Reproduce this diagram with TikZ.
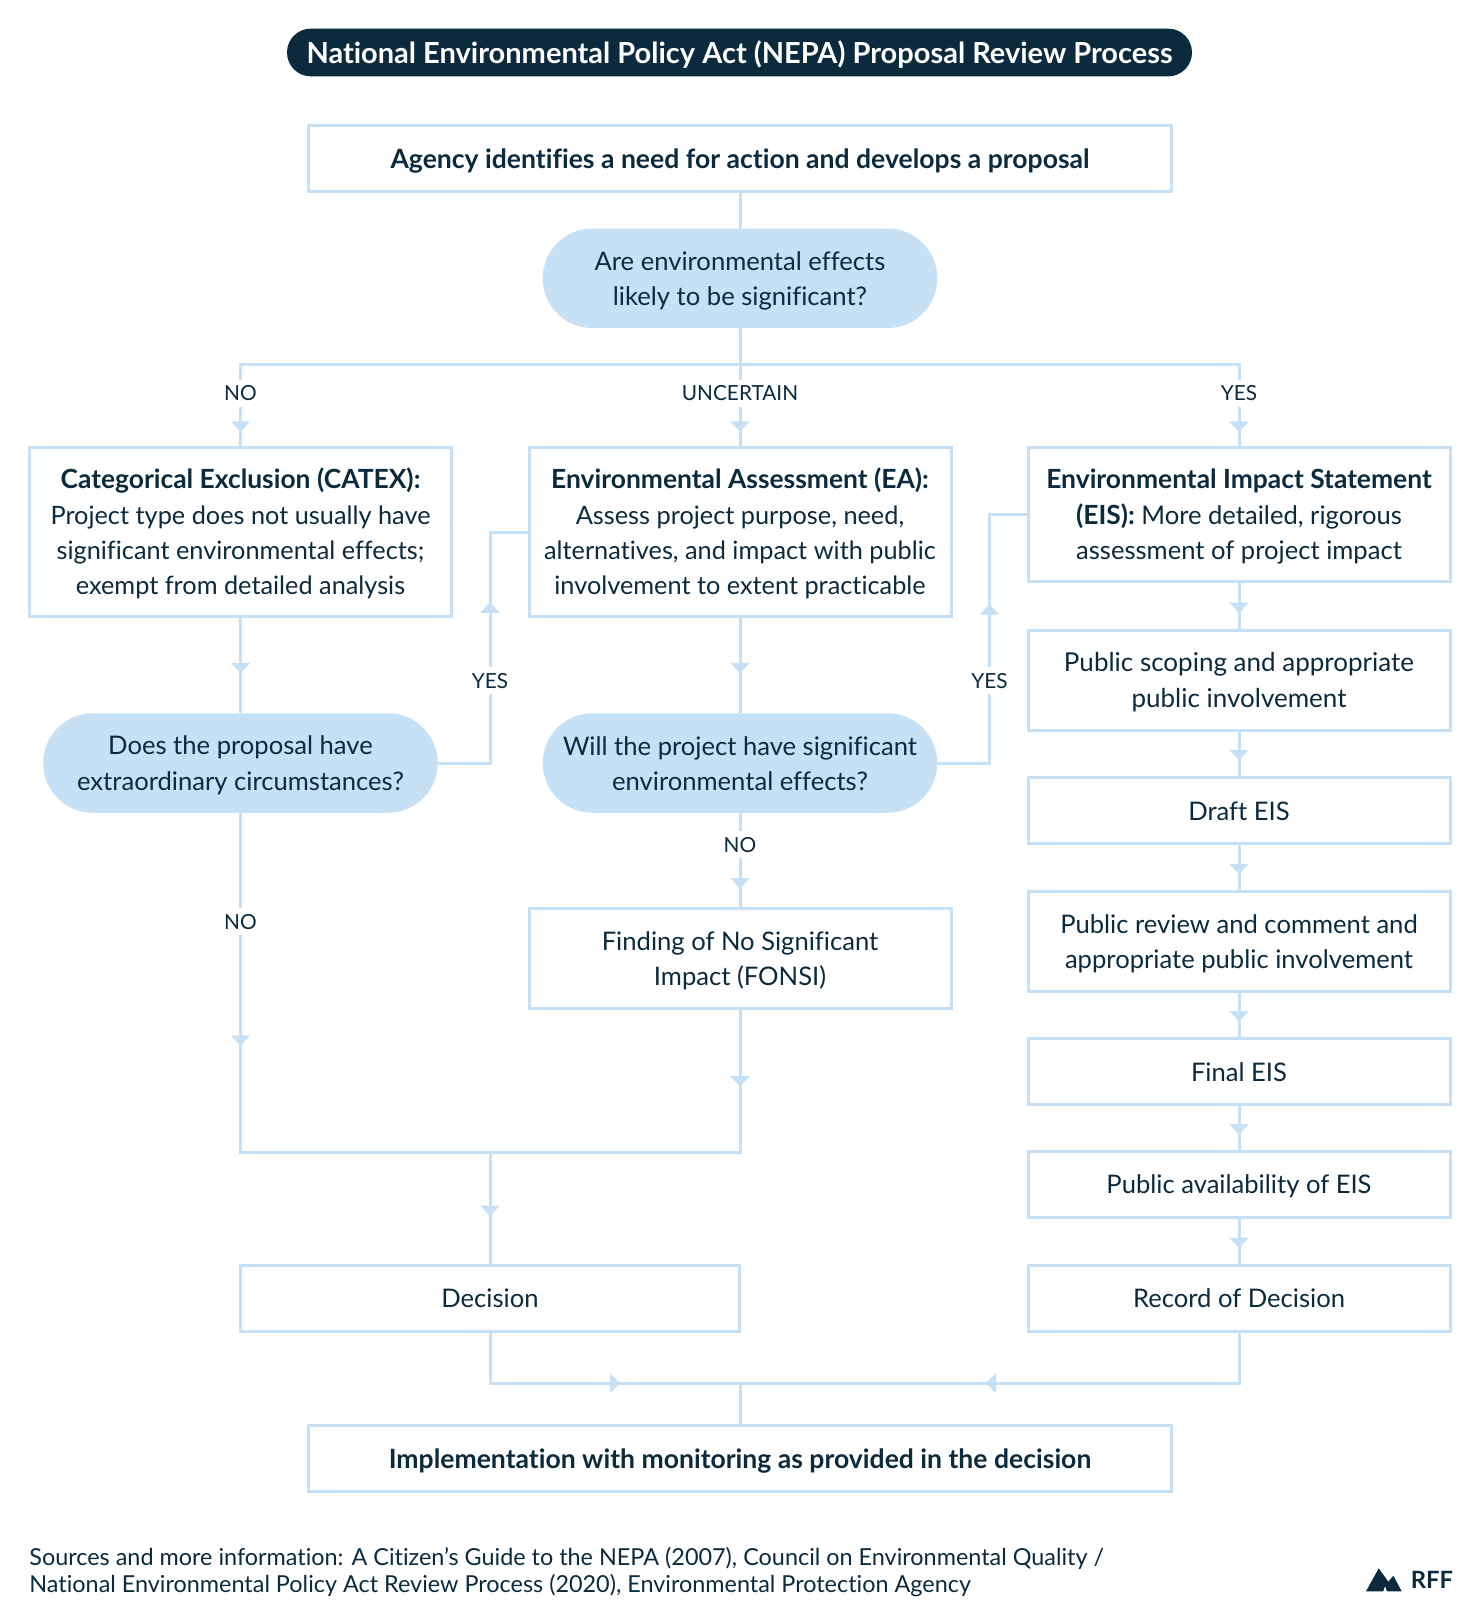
\documentclass[tikz,border=0pt]{standalone}
\usepackage{fontspec}
\setmainfont[Ligatures=NoCommon]{Lato}
\usetikzlibrary{arrows.meta}
\usetikzlibrary{decorations.markings}

\definecolor{navy}{HTML}{0B2A3E}
\definecolor{sky}{HTML}{C6E1F6}

\newcommand{\hd}[1]{{\fontsize{13.2}{17.65}\selectfont\bfseries #1}}
\newcommand{\firstrow}{\rule{0pt}{11.7pt}}

\tikzset{
  topstrut/.store in=\topstrut,topstrut=11.6pt,
  keepbase/.style={execute at begin node={\rule{0pt}{\topstrut}},execute at end node={\rule[-1.8pt]{0pt}{0pt}}},
  box/.style={draw=sky,line width=1.5pt,rectangle,outer sep=0pt,inner sep=0pt,text=navy,align=center,keepbase,
    font=\fontsize{12.8}{17.65}\selectfont},
  colbox/.style={box,minimum width=211pt},
  onerow/.style={colbox,minimum height=33pt},
  widebox/.style={box,minimum width=431.5pt,minimum height=33pt,topstrut=12.2pt,font=\fontsize{13.27}{17.65}\selectfont\bfseries},
  pill/.style={fill=sky,rectangle,rounded corners=24.8pt,outer sep=0pt,inner sep=0pt,text=navy,align=center,keepbase,
    minimum width=197.25pt,minimum height=49.75pt,font=\fontsize{12.8}{17.65}\selectfont},
  lab/.style={fill=white,text=navy,inner xsep=1.5pt,inner ysep=3pt,text height=7.5pt,text depth=0pt,font=\fontsize{10.4}{12}\selectfont},
  flow/.style={draw=sky,line width=1.5pt},
  flowtip/.style={postaction={decorate,decoration={markings,
    mark=at position #1 with {\arrow[sky]{Triangle[width=9.5pt,length=5.25pt]}}}}}
}

\begin{document}
\begin{tikzpicture}[x=0.5pt,y=-0.5pt]
  \useasboundingbox (0,0) rectangle (1480,1621);
  % title and top of the chart
  \node[fill=navy,rectangle,rounded corners=11.9pt,minimum width=452.5pt,minimum height=23.85pt,inner sep=0pt,
    text=white,font=\fontsize{14.5}{16}\selectfont\bfseries,
    execute at begin node={\rule{0pt}{13.4pt}},execute at end node={\rule[-2pt]{0pt}{0pt}}] (title) at (739.5,52.5)
    {National Environmental Policy Act (NEPA) Proposal Review Process};
  \node[widebox] (agency) at (740,158.5) {Agency identifies a need for action and develops a proposal};
  \node[pill] (ask) at (740,278.3) {\firstrow Are environmental effects\\likely to be significant?};
  \coordinate (split) at (740,364);

  % three columns
  \node[colbox,minimum height=84.5pt,font=\fontsize{12.65}{17.65}\selectfont] (catex) at (240.5,532.3)
    {\firstrow\hd{Categorical Exclusion (CATEX):}\\Project type does not usually have\\significant environmental effects;\\exempt from detailed analysis};
  \node[colbox,minimum height=84.5pt,font=\fontsize{12.65}{17.65}\selectfont] (ea) at (740,532.3)
    {\firstrow\hd{Environmental Assessment (EA):}\\Assess project purpose, need,\\alternatives, and impact with public\\involvement to extent practicable};
  \node[colbox,minimum height=66.75pt] (eis) at (1239,514.7)
    {\firstrow\hd{Environmental Impact Statement}\\\hd{(EIS):} More detailed, rigorous\\assessment of project impact};

  \node[pill] (extra) at (240.5,763) {\firstrow Does the proposal have\\extraordinary circumstances?};
  \node[pill] (signif) at (740,763) {\firstrow Will the project have significant\\environmental effects?};
  \node[colbox,minimum height=50pt] (fonsi) at (740,958.5) {\firstrow Finding of No Significant\\Impact (FONSI)};

  \node[colbox,minimum height=50pt,font=\fontsize{13}{17.65}\selectfont] (scoping) at (1239,680) {\firstrow Public scoping and appropriate\\public involvement};
  \node[onerow] (draft) at (1239,810.3) {Draft EIS};
  \node[colbox,minimum height=50pt] (review) at (1239,941.3) {\firstrow Public review and comment and\\appropriate public involvement};
  \node[onerow] (final) at (1239,1071.5) {Final EIS};
  \node[onerow] (avail) at (1239,1184.5) {Public availability of EIS};
  \node[onerow] (record) at (1239,1298) {Record of Decision};
  \node[onerow,minimum width=249.5pt] (decision) at (490,1298) {Decision};
  \node[widebox] (impl) at (740,1458.5) {Implementation with monitoring as provided in the decision};

  \coordinate (merge) at (490,1152.3);
  \coordinate (join) at (740,1383.3);
  \coordinate (kinkea) at (490,532.3);
  \coordinate (kinkeis) at (989.5,514.7);

  % connectors
  \draw[flow] (agency) -- (ask);
  \draw[flow] (ask) -- (split);
  \draw[flow,flowtip=-8pt] (split) -| (catex.north);
  \draw[flow,flowtip=-8pt] (split) -- (ea);
  \draw[flow,flowtip=-8pt] (split) -| (eis.north);
  \draw[flow,flowtip=-20pt] (catex) -- (extra);
  \draw[flow,flowtip=-20pt] (ea) -- (signif);
  \draw[flow,flowtip=-54.5pt] (extra.east) -| (kinkea) -- (ea.west);
  \draw[flow,flowtip=-64pt] (signif.east) -| (kinkeis) -- (eis.west);
  \draw[flow,flowtip=-10pt] (signif) -- (fonsi);
  \draw[flow,flowtip=116.5pt] (extra.south) |- (merge);
  \draw[flow,flowtip=39pt] (fonsi.south) |- (merge);
  \draw[flow,flowtip=-24.5pt] (merge) -- (decision);
  \foreach \a/\b in {eis/scoping,scoping/draft,draft/review,review/final,final/avail,avail/record}
    \draw[flow,flowtip=-8.5pt] (\a) -- (\b);
  \draw[flow,flowtip=-59.75pt] (decision.south) |- (join);
  \draw[flow,flowtip=-122.75pt] (record.south) |- (join);
  \draw[flow] (join) -- (impl);

  % labels on the lines
  \node[lab] (lno) at (240.5,393) {NO};
  \node[lab] (lunc) at (740,393) {UNCERTAIN};
  \node[lab] (lyes) at (1239,393) {YES};
  \node[lab] (lyesa) at (490,680.7) {YES};
  \node[lab] (lyesb) at (989.5,680.7) {YES};
  \node[lab] (lnoa) at (740,844.5) {NO};
  \node[lab] (lnob) at (240.5,921.5) {NO};

  % source and logo
  \node[anchor=west,align=left,inner sep=0pt,text=navy,font=\fontsize{11.7}{13.5}\selectfont] (source) at (29,1572)
    {Sources and more information: A Citizen’s Guide to the NEPA (2007), Council on Environmental Quality /\\National Environmental Policy Act Review Process (2020), Environmental Protection Agency};
  \fill[navy] (1366,1591.3) -- (1378.7,1568.3) -- (1388.3,1581.7) -- (1393.3,1575.7) -- (1401.7,1591.3)
    -- (1387,1591.3) -- (1385,1586) -- (1383.3,1591.3) -- cycle;
  \node[anchor=west,inner sep=0pt,text=navy,font=\fontsize{11.9}{15}\selectfont\bfseries] (rff) at (1410.5,1580) {RFF};
\end{tikzpicture}
\end{document}
